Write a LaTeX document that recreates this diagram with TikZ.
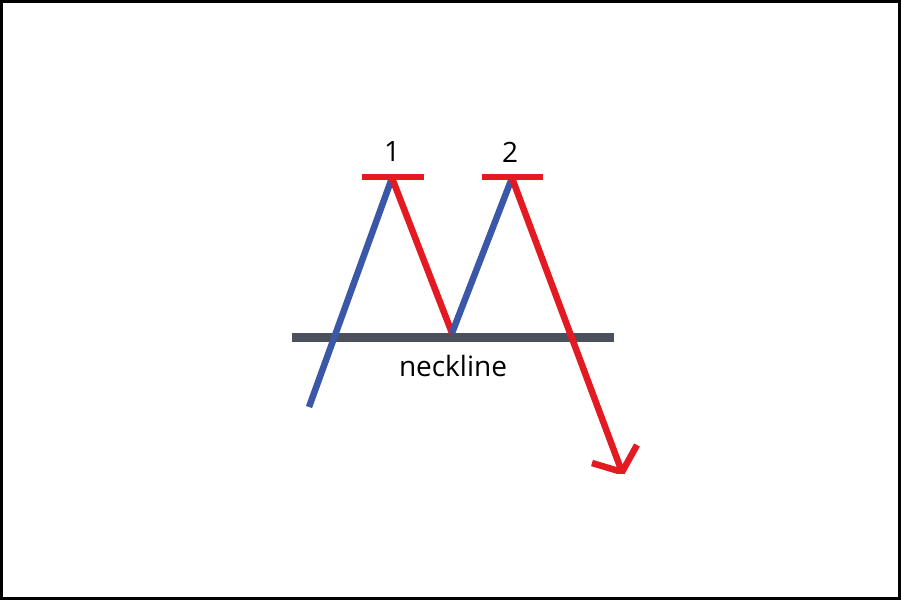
\documentclass[tikz,border=0pt]{standalone}
\usepackage{fontspec}
\setmainfont{Open Sans}
\begin{document}
\begin{tikzpicture}[x=1pt,y=-1pt,
  up/.style={line width=6.5pt,draw={rgb,255:red,58;green,87;blue,168}},
  dn/.style={line width=6.5pt,draw={rgb,255:red,228;green,26;blue,34}},
  lbl/.style={font=\fontsize{28}{32}\selectfont}]
\useasboundingbox (0,0) rectangle (901,600);
\draw[line width=3pt] (1.5,1.5) rectangle (899.5,598.5);
\coordinate (s) at (309,407);
\coordinate (p1) at (392,178);
\coordinate (v) at (452,333);
\coordinate (p2) at (512,178);
\coordinate (e) at (622,472);
\draw[line width=9pt,draw={rgb,255:red,74;green,80;blue,92}] (292,337) -- (614,337);
\draw[up] (s) -- (p1);
\draw[dn] (p1) -- (v);
\draw[up] (v) -- (p2);
\draw[dn] (p2) -- (e);
\begin{scope}
\clip (560,420) rectangle (660,473);
\draw[dn] (592,463) -- (e) -- (637,445);
\end{scope}
\draw[dn] (362,177) -- (424,177);
\draw[dn] (482,177) -- (543,177);
\node[lbl] (l1) at (392,152) {1};
\node[lbl] (l2) at (510,152) {2};
\node[lbl] (nk) at (453,366) {neckline};
\end{tikzpicture}
\end{document}
